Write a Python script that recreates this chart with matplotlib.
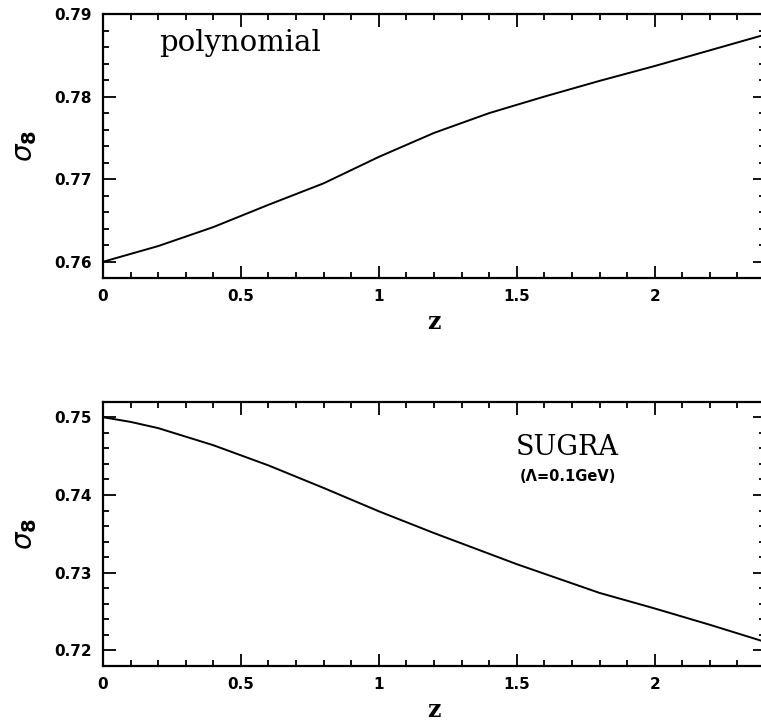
import numpy as np
import matplotlib
matplotlib.use('Agg')
import matplotlib.pyplot as plt
from matplotlib.ticker import MultipleLocator

# sigma_8(z)
z_poly = [0.0, 0.2, 0.4, 0.6, 0.8, 1.0, 1.2, 1.4, 1.6, 1.8, 2.0, 2.2, 2.4]
s8_poly = [0.7600, 0.7619, 0.7642, 0.7669, 0.7695, 0.7727, 0.7756, 0.7780,
           0.7800, 0.7819, 0.7837, 0.7856, 0.7875]

z_sugra = [0.0, 0.1, 0.2, 0.4, 0.6, 0.8, 1.0, 1.2, 1.5, 1.8, 2.0, 2.2, 2.4]
s8_sugra = [0.7500, 0.7494, 0.7486, 0.7464, 0.7438, 0.7409, 0.7379, 0.7351,
            0.7311, 0.7274, 0.7254, 0.7233, 0.7211]

ylims = [(0.758, 0.79), (0.718, 0.752)]
yticks = [[0.76, 0.77, 0.78, 0.79], [0.72, 0.73, 0.74, 0.75]]
xticks = [0, 0.5, 1, 1.5, 2]
xtick_labels = ['0', '0.5', '1', '1.5', '2']

tickfont = dict(family='DejaVu Sans', weight='bold', size=11)

fig = plt.figure(figsize=(7.61, 7.21), dpi=100)
ax1 = fig.add_axes([0.1353, 0.614, 0.870, 0.3666])
ax2 = fig.add_axes([0.1353, 0.0763, 0.870, 0.3666])

for ax, zz, ss, yl, yt in [(ax1, z_poly, s8_poly, ylims[0], yticks[0]),
                           (ax2, z_sugra, s8_sugra, ylims[1], yticks[1])]:
	ax.plot(zz, ss, color='black', lw=1.4)
	ax.set_xlim(0, 2.4)
	ax.set_ylim(*yl)
	ax.set_xticks(xticks)
	ax.set_xticklabels(xtick_labels, fontdict=tickfont)
	ax.set_yticks(yt)
	ax.set_yticklabels(['%.2f' % v for v in yt], fontdict=tickfont)
	ax.xaxis.set_minor_locator(MultipleLocator(0.1))
	ax.yaxis.set_minor_locator(MultipleLocator(0.002))
	ax.tick_params(which='both', direction='in', top=True, right=True, width=1.3, color='black')
	ax.tick_params(which='major', length=9, pad=8)
	ax.tick_params(which='minor', length=4.5)
	for sp in ax.spines.values():
		sp.set_linewidth(1.6)
	ax.set_xlabel('z', family='DejaVu Serif', weight='bold', size=17, labelpad=4)
	ax.set_ylabel(r'$\sigma_\mathbf{8}$', size=20, labelpad=11)

ax1.text(0.085, 0.89, 'polynomial', transform=ax1.transAxes, family='DejaVu Serif',
	size=21, ha='left', va='center')
ax2.text(0.702, 0.825, 'SUGRA', transform=ax2.transAxes, family='DejaVu Serif',
	size=19.5, ha='center', va='center')
ax2.text(0.702, 0.715, '(Λ=0.1GeV)', transform=ax2.transAxes, family='DejaVu Sans',
	weight='bold', size=10.5, ha='center', va='center')

fig.savefig('out.png', dpi=100)
